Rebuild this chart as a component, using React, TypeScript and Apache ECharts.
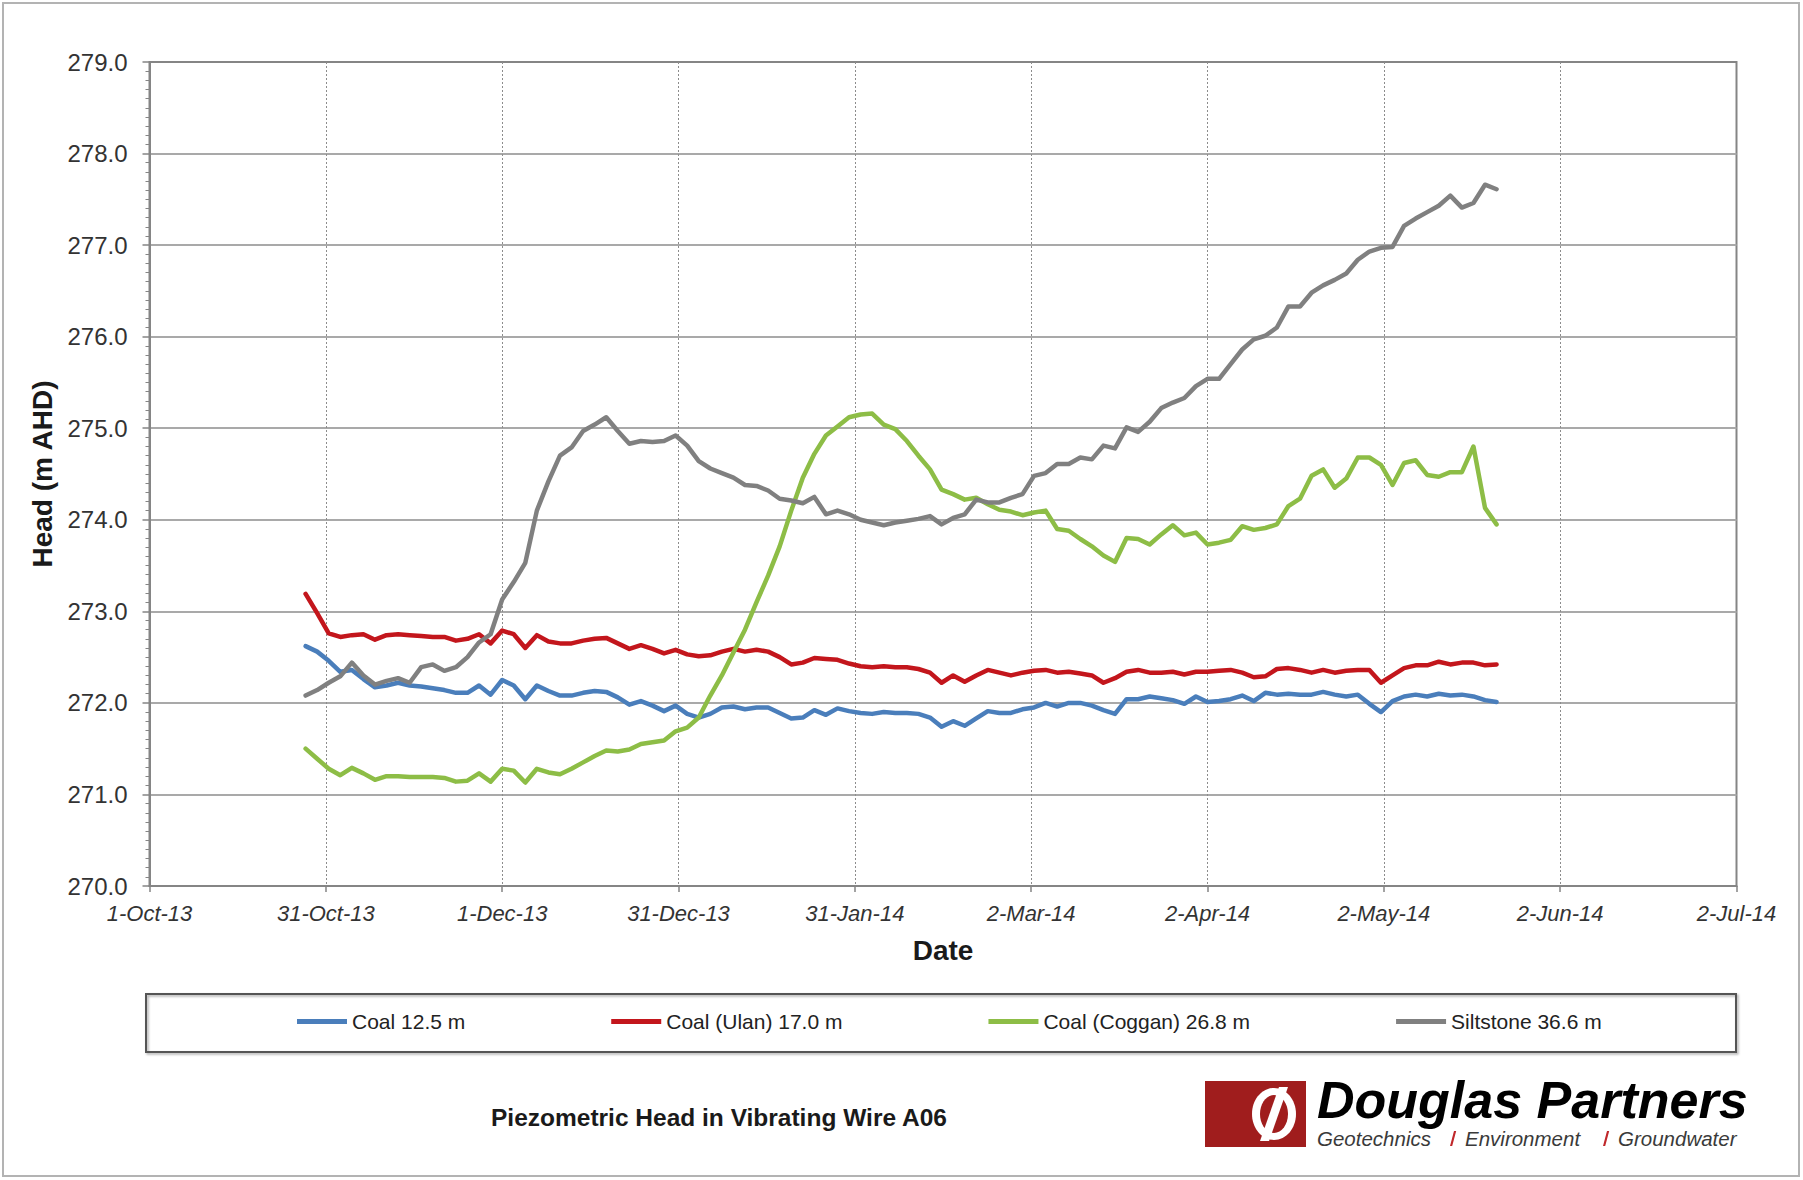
import React, { useEffect, useRef } from "react";
import * as echarts from "echarts";

const FONT = '"Liberation Sans", Arial, sans-serif';

// Reading dates (every second day)
const dates = [
  "2013-10-28", "2013-10-30",
  "2013-11-01", "2013-11-03", "2013-11-05", "2013-11-07", "2013-11-09", "2013-11-11", "2013-11-13", "2013-11-15",
  "2013-11-17", "2013-11-19", "2013-11-21", "2013-11-23", "2013-11-25", "2013-11-27", "2013-11-29",
  "2013-12-01", "2013-12-03", "2013-12-05", "2013-12-07", "2013-12-09", "2013-12-11", "2013-12-13", "2013-12-15",
  "2013-12-17", "2013-12-19", "2013-12-21", "2013-12-23", "2013-12-25", "2013-12-27", "2013-12-29", "2013-12-31",
  "2014-01-02", "2014-01-04", "2014-01-06", "2014-01-08", "2014-01-10", "2014-01-12", "2014-01-14", "2014-01-16",
  "2014-01-18", "2014-01-20", "2014-01-22", "2014-01-24", "2014-01-26", "2014-01-28", "2014-01-30",
  "2014-02-01", "2014-02-03", "2014-02-05", "2014-02-07", "2014-02-09", "2014-02-11", "2014-02-13", "2014-02-15",
  "2014-02-17", "2014-02-19", "2014-02-21", "2014-02-23", "2014-02-25", "2014-02-27",
  "2014-03-01", "2014-03-03", "2014-03-05", "2014-03-07", "2014-03-09", "2014-03-11", "2014-03-13", "2014-03-15",
  "2014-03-17", "2014-03-19", "2014-03-21", "2014-03-23", "2014-03-25", "2014-03-27", "2014-03-29", "2014-03-31",
  "2014-04-02", "2014-04-04", "2014-04-06", "2014-04-08", "2014-04-10", "2014-04-12", "2014-04-14", "2014-04-16",
  "2014-04-18", "2014-04-20", "2014-04-22", "2014-04-24", "2014-04-26", "2014-04-28", "2014-04-30",
  "2014-05-02", "2014-05-04", "2014-05-06", "2014-05-08", "2014-05-10", "2014-05-12", "2014-05-14", "2014-05-16",
  "2014-05-18", "2014-05-20", "2014-05-22",
];

const coal125 = [
  272.62, 272.56, 272.46, 272.34, 272.36, 272.26, 272.17, 272.19, 272.22, 272.19,
  272.18, 272.16, 272.14, 272.11, 272.11, 272.19, 272.09, 272.25, 272.19, 272.04,
  272.19, 272.13, 272.08, 272.08, 272.11, 272.13, 272.12, 272.06, 271.98, 272.02,
  271.97, 271.91, 271.97, 271.88, 271.84, 271.88, 271.95, 271.96, 271.93, 271.95,
  271.95, 271.89, 271.83, 271.84, 271.92, 271.87, 271.94, 271.91, 271.89, 271.88,
  271.90, 271.89, 271.89, 271.88, 271.84, 271.74, 271.80, 271.75, 271.83, 271.91,
  271.89, 271.89, 271.93, 271.95, 272.00, 271.96, 272.00, 272.00, 271.97, 271.92,
  271.88, 272.04, 272.04, 272.07, 272.05, 272.03, 271.99, 272.07, 272.01, 272.02,
  272.04, 272.08, 272.02, 272.11, 272.09, 272.10, 272.09, 272.09, 272.12, 272.09,
  272.07, 272.09, 271.99, 271.90, 272.02, 272.07, 272.09, 272.07, 272.10, 272.08,
  272.09, 272.07, 272.03, 272.01,
];

const coalUlan = [
  273.19, 272.98, 272.76, 272.72, 272.74, 272.75, 272.69, 272.74, 272.75, 272.74,
  272.73, 272.72, 272.72, 272.68, 272.70, 272.75, 272.65, 272.79, 272.75, 272.60,
  272.74, 272.67, 272.65, 272.65, 272.68, 272.70, 272.71, 272.65, 272.59, 272.63,
  272.59, 272.54, 272.58, 272.53, 272.51, 272.52, 272.56, 272.59, 272.56, 272.58,
  272.56, 272.50, 272.42, 272.44, 272.49, 272.48, 272.47, 272.43, 272.40, 272.39,
  272.40, 272.39, 272.39, 272.37, 272.33, 272.22, 272.30, 272.23, 272.30, 272.36,
  272.33, 272.30, 272.33, 272.35, 272.36, 272.33, 272.34, 272.32, 272.30, 272.22,
  272.27, 272.34, 272.36, 272.33, 272.33, 272.34, 272.31, 272.34, 272.34, 272.35,
  272.36, 272.33, 272.28, 272.29, 272.37, 272.38, 272.36, 272.33, 272.36, 272.33,
  272.35, 272.36, 272.36, 272.22, 272.30, 272.38, 272.41, 272.41, 272.45, 272.42,
  272.44, 272.44, 272.41, 272.42,
];

const coalCoggan = [
  271.50, 271.39, 271.28, 271.21, 271.29, 271.23, 271.16, 271.20, 271.20, 271.19,
  271.19, 271.19, 271.18, 271.14, 271.15, 271.23, 271.14, 271.28, 271.26, 271.13,
  271.28, 271.24, 271.22, 271.28, 271.35, 271.42, 271.48, 271.47, 271.49, 271.55,
  271.57, 271.59, 271.69, 271.73, 271.84, 272.08, 272.30, 272.55, 272.80, 273.10,
  273.39, 273.71, 274.10, 274.46, 274.72, 274.92, 275.02, 275.12, 275.15, 275.16,
  275.04, 274.99, 274.86, 274.70, 274.55, 274.33, 274.28, 274.22, 274.24, 274.17,
  274.11, 274.09, 274.05, 274.08, 274.10, 273.90, 273.88, 273.79, 273.71, 273.61,
  273.54, 273.80, 273.79, 273.73, 273.84, 273.94, 273.83, 273.86, 273.73, 273.75,
  273.78, 273.93, 273.89, 273.91, 273.95, 274.15, 274.23, 274.48, 274.55, 274.35,
  274.45, 274.68, 274.68, 274.60, 274.38, 274.62, 274.65, 274.49, 274.47, 274.52,
  274.52, 274.80, 274.13, 273.95,
];

const siltstone = [
  272.08, 272.14, 272.22, 272.29, 272.44, 272.30, 272.20, 272.24, 272.27, 272.22,
  272.39, 272.42, 272.35, 272.39, 272.50, 272.66, 272.75, 273.13, 273.32, 273.53,
  274.10, 274.42, 274.70, 274.79, 274.97, 275.04, 275.12, 274.97, 274.83, 274.86,
  274.85, 274.86, 274.92, 274.81, 274.64, 274.56, 274.51, 274.46, 274.38, 274.37,
  274.32, 274.23, 274.21, 274.18, 274.25, 274.06, 274.10, 274.06, 274.00, 273.97,
  273.94, 273.97, 273.99, 274.01, 274.04, 273.95, 274.02, 274.06, 274.22, 274.19,
  274.19, 274.24, 274.28, 274.48, 274.51, 274.61, 274.61, 274.68, 274.66, 274.81,
  274.78, 275.01, 274.96, 275.07, 275.22, 275.28, 275.33, 275.46, 275.54, 275.54,
  275.70, 275.86, 275.97, 276.01, 276.10, 276.33, 276.33, 276.48, 276.56, 276.62,
  276.69, 276.84, 276.93, 276.97, 276.98, 277.21, 277.29, 277.36, 277.43, 277.54,
  277.41, 277.46, 277.66, 277.61,
];

const seriesNames = ["Coal 12.5 m", "Coal (Ulan) 17.0 m", "Coal (Coggan) 26.8 m", "Siltstone 36.6 m"];
const seriesValues = [coal125, coalUlan, coalCoggan, siltstone];
const seriesColors = ["#4a7ebb", "#c3161c", "#8dbd46", "#808080"];

const xAxisStart = "2013-10-01";
const xAxisEndDays = 274.5; // 2-Jul-14
const xTickStepDays = 30.5;
const yMin = 270;
const yMax = 279;

const MONTHS = ["Jan", "Feb", "Mar", "Apr", "May", "Jun", "Jul", "Aug", "Sep", "Oct", "Nov", "Dec"];
const DAY = 86400000;
const parseUTC = (s: string) => {
  const [y, m, d] = s.split("-").map(Number);
  return Date.UTC(y, m - 1, d);
};
const ORIGIN = parseUTC(xAxisStart);
const toDay = (s: string) => (parseUTC(s) - ORIGIN) / DAY;
const fmtDate = (v: number) => {
  const dt = new Date(ORIGIN + Math.floor(v + 1e-6) * DAY);
  return `${dt.getUTCDate()}-${MONTHS[dt.getUTCMonth()]}-${String(dt.getUTCFullYear()).slice(2)}`;
};

const LOGO_RED = "#a01d1d";
const subText = (text: string, x: number) => ({
  type: "text",
  silent: true,
  x,
  y: 1138,
  style: { text, fontSize: 20.5, fontStyle: "italic", fontFamily: FONT, fill: "#3a3a3a", verticalAlign: "middle" },
});
const redBar = (x: number) => ({
  type: "polygon",
  silent: true,
  shape: { points: [[x + 4, 1131], [x + 6.2, 1131], [x + 2.2, 1146], [x, 1146]] },
  style: { fill: "#c0282b" },
});

export default function App() {
  const ref = useRef<HTMLDivElement>(null);

  useEffect(() => {
    document.body.style.margin = "0";
    if (!ref.current) return;
    const chart = echarts.init(ref.current, undefined, { renderer: "svg" });

    const axisGray = "#858585";

    const option: any = {
      animation: false,
      backgroundColor: "#ffffff",
      textStyle: { fontFamily: FONT },
      grid: {
        left: 149.5,
        top: 62,
        width: 1587,
        height: 824,
        show: true,
        borderColor: axisGray,
        borderWidth: 2,
        backgroundColor: "transparent",
      },
      xAxis: {
        type: "value",
        min: 0,
        max: xAxisEndDays,
        interval: xTickStepDays,
        name: "Date",
        nameLocation: "middle",
        nameGap: 50,
        nameTextStyle: { fontSize: 28, fontWeight: "bold", color: "#1a1a1a", fontFamily: FONT },
        axisLine: { show: true, lineStyle: { color: axisGray, width: 2 } },
        axisTick: { show: true, length: 6, lineStyle: { color: axisGray, width: 1.5 } },
        axisLabel: {
          formatter: fmtDate,
          fontSize: 22,
          fontStyle: "italic",
          color: "#333333",
          margin: 16,
          fontFamily: FONT,
          showMinLabel: true,
          showMaxLabel: true,
        },
        splitLine: {
          show: true,
          showMinLine: false,
          showMaxLine: false,
          lineStyle: { color: "#8c8c8c", width: 1, type: [2, 2] },
        },
      },
      yAxis: {
        type: "value",
        min: yMin,
        max: yMax,
        interval: 1,
        name: "Head (m AHD)",
        nameLocation: "middle",
        nameRotate: 90,
        nameGap: 92,
        nameTextStyle: { fontSize: 28, fontWeight: "bold", color: "#1a1a1a", fontFamily: FONT },
        axisLine: { show: true, lineStyle: { color: axisGray, width: 2 } },
        axisTick: { show: true, length: 7, lineStyle: { color: axisGray, width: 1.5 } },
        minorTick: { show: true, splitNumber: 10, length: 4, lineStyle: { color: axisGray, width: 1 } },
        axisLabel: {
          formatter: (v: number) => v.toFixed(1),
          fontSize: 24,
          color: "#333333",
          margin: 22,
          fontFamily: FONT,
        },
        splitLine: {
          show: true,
          showMinLine: false,
          showMaxLine: false,
          lineStyle: { color: "#a9a9a9", width: 2 },
        },
      },
      legend: {
        left: 297,
        top: 1011,
        padding: 0,
        itemGap: 146,
        itemWidth: 50,
        itemHeight: 5,
        icon: "rect",
        textStyle: { fontSize: 21, color: "#222222", fontFamily: FONT },
        data: seriesNames,
      },
      series: seriesNames.map((name, i) => ({
        name,
        type: "line",
        symbol: "none",
        color: seriesColors[i],
        lineStyle: { width: 4.5, color: seriesColors[i], cap: "round", join: "round" },
        data: dates.map((d, j) => [toDay(d), seriesValues[i][j]]),
        z: 2 + i,
      })),
      graphic: [
        {
          type: "rect",
          silent: true,
          shape: { x: 3, y: 3, width: 1796, height: 1173 },
          style: { fill: "none", stroke: "#b3b3b3", lineWidth: 2 },
        },
        {
          type: "rect",
          silent: true,
          shape: { x: 146, y: 994, width: 1590, height: 58 },
          style: {
            fill: "none",
            stroke: "#555555",
            lineWidth: 2,
            shadowBlur: 2,
            shadowColor: "rgba(0,0,0,0.35)",
            shadowOffsetX: 1.5,
            shadowOffsetY: 1.5,
          },
        },
        {
          type: "text",
          silent: true,
          x: 491,
          y: 1117,
          style: {
            text: "Piezometric Head in Vibrating Wire A06",
            fontSize: 24.5,
            fontWeight: "bold",
            fontFamily: FONT,
            fill: "#1a1a1a",
            verticalAlign: "middle",
          },
        },
        {
          type: "rect",
          silent: true,
          shape: { x: 1205, y: 1081, width: 101, height: 66 },
          style: { fill: LOGO_RED },
        },
        {
          type: "ellipse",
          silent: true,
          shape: { cx: 1274, cy: 1114, rx: 22, ry: 26 },
          style: { fill: "#ffffff" },
        },
        {
          type: "ellipse",
          silent: true,
          shape: { cx: 1274, cy: 1114, rx: 14, ry: 19 },
          style: { fill: LOGO_RED },
        },
        {
          type: "polygon",
          silent: true,
          shape: { points: [[1279, 1087], [1288, 1087], [1269, 1141], [1260, 1141]] },
          style: { fill: "#ffffff" },
        },
        {
          type: "text",
          silent: true,
          x: 1317,
          y: 1100,
          style: {
            text: "Douglas Partners",
            fontSize: 52,
            fontWeight: "bold",
            fontStyle: "italic",
            fontFamily: FONT,
            fill: "#000000",
            verticalAlign: "middle",
          },
        },
        subText("Geotechnics", 1317),
        redBar(1450),
        subText("Environment", 1465),
        redBar(1603),
        subText("Groundwater", 1618),
      ],
    };

    chart.setOption(option);
    return () => chart.dispose();
  }, []);

  return <div ref={ref} style={{ width: 1803, height: 1180 }} />;
}
